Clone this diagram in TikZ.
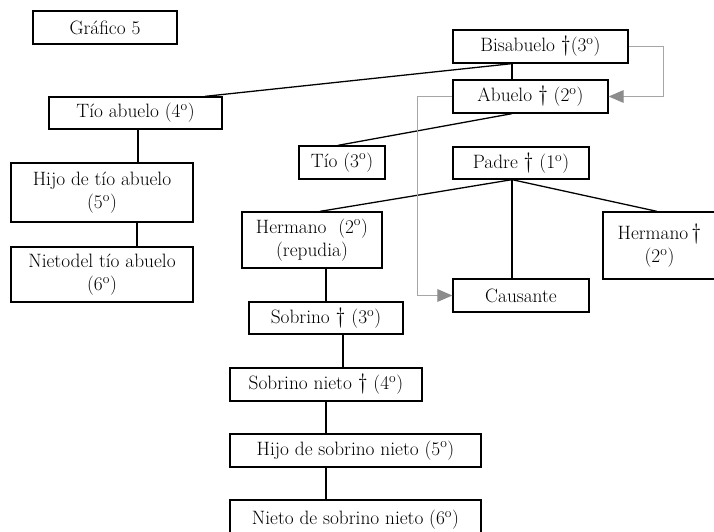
\documentclass[tikz,border=0pt]{standalone}
\usepackage{fontspec}
\usetikzlibrary{calc,arrows.meta,positioning}

\newcommand{\grado}[1]{#1\textsuperscript{o}}
\newcommand{\cruz}{{\fontsize{19}{19}\selectfont\textdagger}}

\begin{document}
\begin{tikzpicture}[x=0.03cm, y=-0.03cm,
  box/.style={draw, line width=1.1pt, inner sep=0pt, align=center,
    font=\fontsize{16.5}{20}\selectfont},
  link/.style={line width=1.1pt},
  back/.style={draw=gray!70, line width=1pt,
    -{Triangle[length=4.5mm, width=3.8mm, color=gray!90]}}]
  \useasboundingbox (0,0) rectangle (714,532);
  \coordinate (trunk) at (512,0);
  % titulo
  \node[box, minimum width=4.32cm, minimum height=0.99cm] (graf) at (105,27.5) {Gráfico 5};
  % ascendientes
  \node[box, minimum width=5.25cm, minimum height=0.99cm] (bisa) at (540.5,46.5) {Bisabuelo \cruz(\grado{3})};
  \node[box, minimum width=4.65cm, minimum height=0.99cm] (abuelo) at (530.5,96.5) {Abuelo \cruz{} (\grado{2})};
  \node[box, minimum width=4.08cm, minimum height=0.96cm] (padre) at (521,163) {Padre \cruz{} (\grado{1})};
  \node[box, minimum width=4.08cm, minimum height=0.99cm] (caus) at (521,295.5) {Causante};
  % rama del tio abuelo
  \node[box, minimum width=5.19cm, minimum height=0.96cm] (tioab) at (135.5,113) {Tío abuelo (\grado{4})};
  \node[box, minimum width=5.46cm, minimum height=1.77cm] (hijota) at (102,192.5) {Hijo de tío abuelo\\(\grado{5})};
  \node[box, minimum width=5.46cm, minimum height=1.65cm] (nietota) at (102,274.5) {Nietodel tío abuelo\\(\grado{6})};
  \node[box, minimum width=2.58cm, minimum height=0.99cm] (tio) at (342,162.5) {Tío (\grado{3})};
  % hermanos y sobrinos
  \node[box, minimum width=4.2cm, minimum height=1.68cm] (herm) at (312,240) {Hermano~~(\grado{2})\\(repudia)};
  \node[box, minimum width=3.39cm, minimum height=2.01cm] (herm2) at (659.5,245.5) {Hermano\,\cruz\\(\grado{2})};
  \node[box, minimum width=4.62cm, minimum height=0.96cm] (sobr) at (326,318) {Sobrino \cruz{} (\grado{3})};
  \node[box, minimum width=5.76cm, minimum height=0.99cm] (sobrn) at (326,384.5) {Sobrino nieto \cruz{} (\grado{4})};
  \node[box, minimum width=7.53cm, minimum height=0.99cm] (hijosn) at (355.5,450.5) {Hijo de sobrino nieto (\grado{5})};
  \node[box, minimum width=7.53cm, minimum height=1.2cm] (nietosn) at (355.5,520) {Nieto de sobrino nieto (\grado{6})};
  % lineas de parentesco
  \draw[link] (bisa.south -| trunk) -- ($(tioab.north)+(69.5,0)$);
  \draw[link] (bisa.south -| trunk) -- (abuelo.north -| trunk);
  \draw[link] (abuelo.south -| trunk) -- ($(tio.north)+(-4,0)$);
  \draw[link] (padre.south -| trunk) -- ($(herm.north)+(8,0)$);
  \draw[link] (padre.south -| trunk) -- (caus.north -| trunk);
  \draw[link] (padre.south -| trunk) -- ($(herm2.north)+(-2.5,0)$);
  \draw[link] ($(tioab.south)+(2.5,0)$) coordinate (c1) -- (c1 |- hijota.north);
  \draw[link] ($(hijota.south)+(35,0)$) coordinate (c2) -- (c2 |- nietota.north);
  \draw[link] (herm.south -| sobr.north) -- (sobr.north);
  \draw[link] ($(sobr.south)+(17,0)$) coordinate (c3) -- (c3 |- sobrn.north);
  \draw[link] (sobrn.south) -- (sobrn.south |- hijosn.north);
  \draw[link] (hijosn.south -| sobrn.south) -- (nietosn.north -| sobrn.south);
  % flechas grises
  \draw[back] (bisa.east) -- ++(35,0) |- (abuelo.east);
  \draw[back] (abuelo.west) -- ++(-35,0) |- (caus.west);
\end{tikzpicture}
\end{document}
